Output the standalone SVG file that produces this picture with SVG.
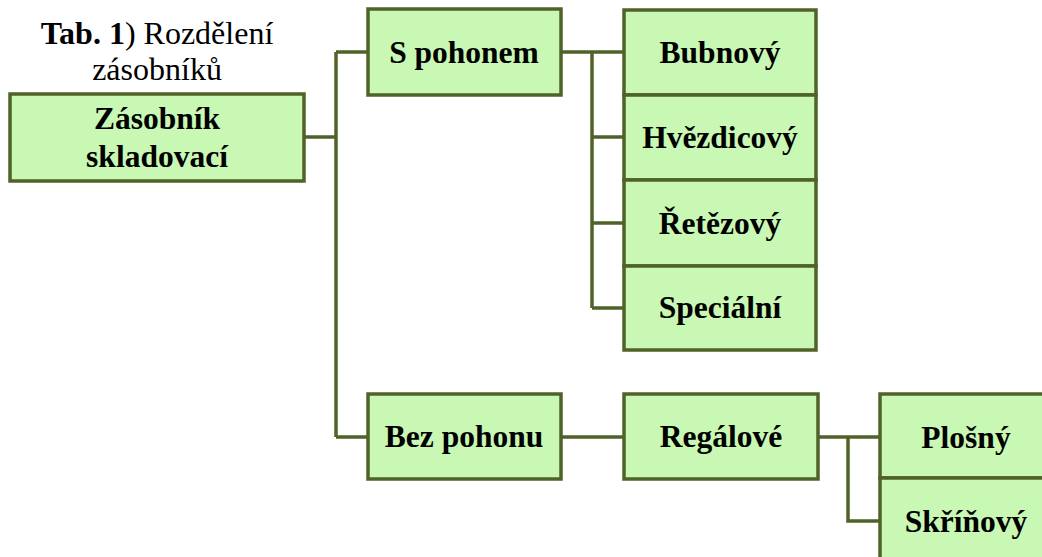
<svg xmlns="http://www.w3.org/2000/svg" width="1042" height="557" viewBox="0 0 1042 557">
<defs>
<style>
.box{fill:#c8f8b3;stroke:#4f6228;stroke-width:3.5}
.lbl{font-family:'Liberation Serif','Times New Roman',serif;font-weight:bold;font-size:31.5px;fill:#000;text-anchor:middle}
.ttl{font-family:'Liberation Serif','Times New Roman',serif;font-size:32px;fill:#000;text-anchor:middle}
.con{fill:none;stroke:#4f6228;stroke-width:3.5}
</style>
</defs>
<rect width="1042" height="557" fill="#fff"/>
<g id="title">
<text class="ttl" x="157" y="44"><tspan font-weight="bold">Tab. 1</tspan>) Rozdělení</text>
<text class="ttl" x="157" y="80">zásobníků</text>
</g>
<g id="connectors">
<path class="con" d="M304 137H336M336 52V437M336 52H368M336 437H368"/>
<path class="con" d="M561 52H624M592 52V308M592 137H624M592 223H624M592 308H624"/>
<path class="con" d="M561 437H624"/>
<path class="con" d="M818 437H880M848 437V521H880"/>
</g>
<g id="zasobnik"><rect class="box" x="10" y="94" width="294" height="87"/><text class="lbl" x="157" y="129">Zásobník</text><text class="lbl" x="157" y="167">skladovací</text></g>
<g id="s-pohonem"><rect class="box" x="368" y="9" width="193" height="86"/><text class="lbl" x="464" y="63">S pohonem</text></g>
<g id="bubnovy"><rect class="box" x="624" y="10" width="192" height="85"/><text class="lbl" x="720" y="63">Bubnový</text></g>
<g id="hvezdicovy"><rect class="box" x="624" y="95" width="192" height="85"/><text class="lbl" x="720" y="148">Hvězdicový</text></g>
<g id="retezovy"><rect class="box" x="624" y="180" width="192" height="86"/><text class="lbl" x="720" y="234">Řetězový</text></g>
<g id="specialni"><rect class="box" x="624" y="266" width="192" height="84"/><text class="lbl" x="720" y="318">Speciální</text></g>
<g id="bez-pohonu"><rect class="box" x="368" y="394" width="193" height="85"/><text class="lbl" x="464" y="447">Bez pohonu</text></g>
<g id="regalove"><rect class="box" x="624" y="394" width="194" height="85"/><text class="lbl" x="721" y="447">Regálové</text></g>
<g id="plosny"><rect class="box" x="880" y="394" width="172" height="84"/><text class="lbl" x="966" y="448">Plošný</text></g>
<g id="skrinovy"><rect class="box" x="880" y="478" width="172" height="90"/><text class="lbl" x="966" y="532">Skříňový</text></g>
</svg>
